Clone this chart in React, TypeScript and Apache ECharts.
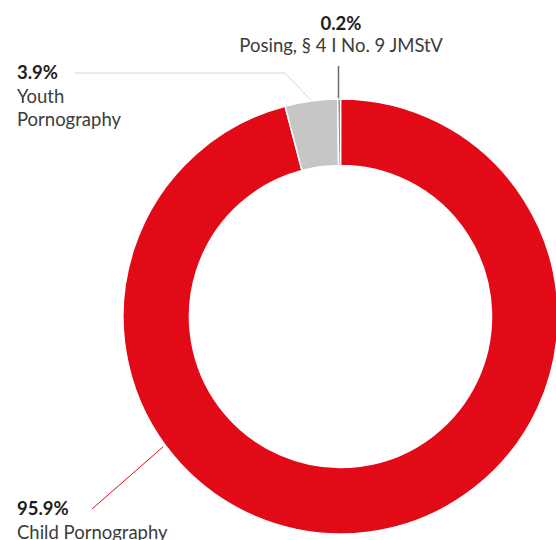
import React, { useEffect, useRef } from "react";
import * as echarts from "echarts";

const categories = ["Child Pornography", "Youth Pornography", "Posing, § 4 I No. 9 JMStV"];
const labelNames = ["Child Pornography", "Youth\nPornography", "Posing, § 4 I No. 9 JMStV"];
const values = [95.9, 3.9, 0.2];
const colors = ["#E30A17", "#C6C6C6", "#707070"];
const lineColors = ["#E30A17", "#D6D6D6", "#6A6A6A"];

const CX = 340.5;
const CY = 316.5;
const R_IN = 151;
const R_OUT = 217.5;
const FS = 18.5;

function polar(deg: number, r: number): number[] {
  const a = (deg * Math.PI) / 180;
  return [CX + r * Math.sin(a), CY - r * Math.cos(a)];
}

const labelLayouts = [
  {
    x: 17,
    y: 520,
    align: "left",
    verticalAlign: "middle",
    labelLinePoints: [polar(233.7, 220), [92, 509]],
  },
  {
    x: 17,
    y: 95.5,
    align: "left",
    verticalAlign: "middle",
    labelLinePoints: [polar(352.3, 218), [285, 73], [75, 73]],
  },
  {
    x: 341,
    y: 34,
    align: "center",
    verticalAlign: "middle",
    labelLinePoints: [[338.5, 99], [338.5, 66]],
  },
];

export default function App() {
  const ref = useRef<HTMLDivElement>(null);
  useEffect(() => {
    document.body.style.margin = "0";
    if (!ref.current) return;
    const chart = echarts.init(ref.current, undefined, { renderer: "svg" });
    chart.setOption({
      animation: false,
      backgroundColor: "#ffffff",
      series: [
        {
          type: "pie",
          center: [CX, CY],
          radius: [R_IN, R_OUT],
          startAngle: 90,
          clockwise: true,
          avoidLabelOverlap: false,
          silent: true,
          itemStyle: { borderColor: "#ffffff", borderWidth: 1.5 },
          label: {
            show: true,
            position: "outside",
            fontFamily: "Lato",
            rich: {
              p: { fontFamily: "Lato", fontSize: FS, fontWeight: "bold", color: "#1d1d1b", lineHeight: 23.5 },
              n: { fontFamily: "Lato", fontSize: FS, color: "#3c3c3b", lineHeight: 23.5 },
              p2: { fontFamily: "Lato", fontSize: FS, fontWeight: "bold", color: "#1d1d1b", lineHeight: 21.5 },
              n2: { fontFamily: "Lato", fontSize: FS, color: "#3c3c3b", lineHeight: 21.5 },
            },
          },
          labelLine: { show: true, smooth: false },
          labelLayout: (params: any) => labelLayouts[params.dataIndex],
          data: categories.map((name, i) => {
            const nm = labelNames[i].split("\n");
            const isPosing = i === 2;
            const pk = isPosing ? "p2" : "p";
            const nk = isPosing ? "n2" : "n";
            return {
              name,
              value: values[i],
              itemStyle: { color: colors[i] },
              label: {
                formatter: `{${pk}|${values[i]}%}\n` + nm.map((s) => `{${nk}|${s}}`).join("\n"),
              },
              labelLine: {
                lineStyle: { color: lineColors[i], width: i === 2 ? 1.5 : 1 },
              },
            };
          }),
        },
      ],
    });
    return () => chart.dispose();
  }, []);
  return <div ref={ref} style={{ width: 556, height: 540 }} />;
}
